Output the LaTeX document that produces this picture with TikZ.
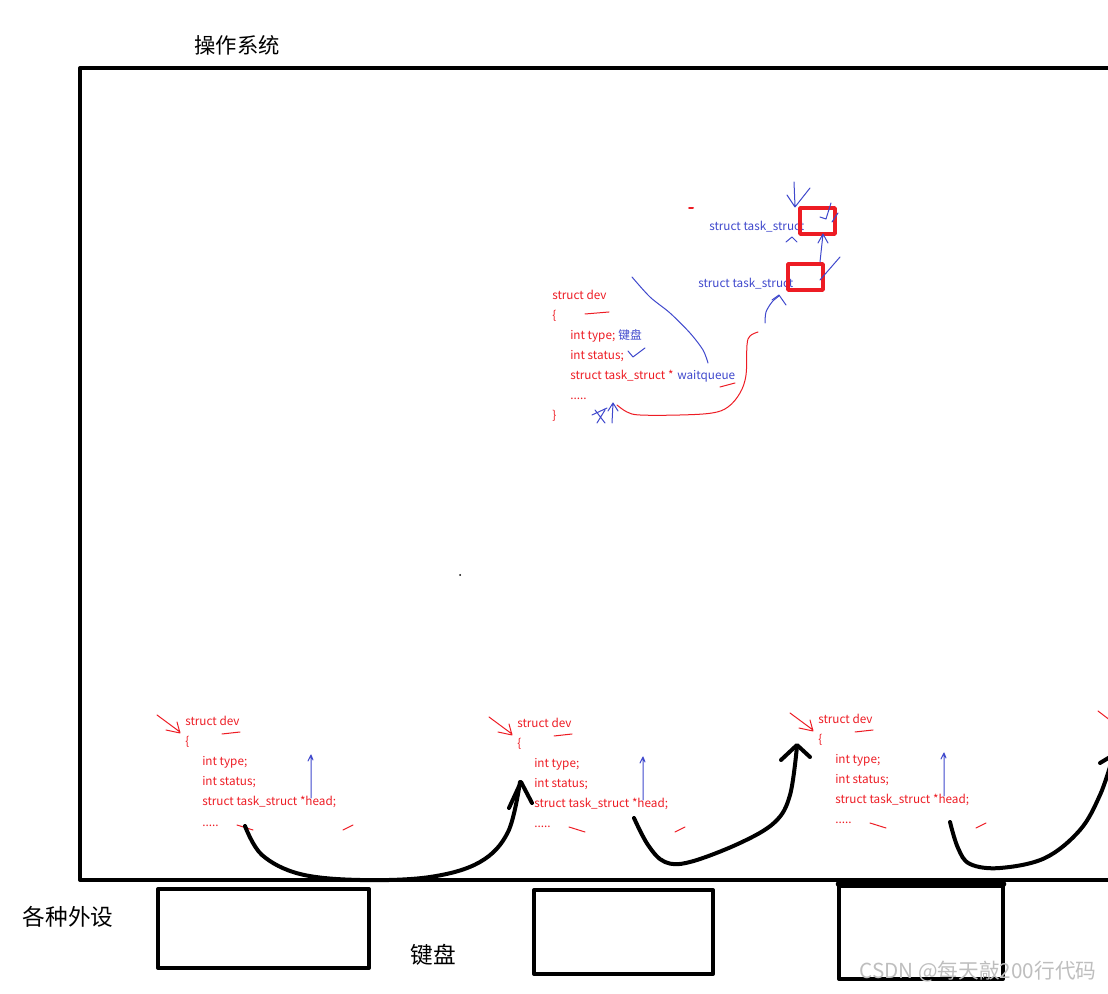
\documentclass[tikz,border=0pt]{standalone}
\usepackage{fontspec}
\setmainfont{Noto Sans CJK SC}
\definecolor{penred}{RGB}{237,28,36}
\definecolor{penblue}{RGB}{63,72,204}
\definecolor{markgray}{RGB}{190,190,190}

\begin{document}
\begin{tikzpicture}[x=0.75pt, y=-0.75pt, line cap=round, line join=round,
  code/.style={anchor=base west, inner sep=0pt, text=penred, font=\fontsize{8.8}{10}\selectfont},
  note/.style={anchor=base west, inner sep=0pt, text=penblue, font=\fontsize{8.8}{10}\selectfont},
  label/.style={inner sep=0pt, font=\fontsize{16}{18}\selectfont},
  redpen/.style={penred, line width=0.75pt},
  bluepen/.style={penblue, line width=0.75pt},
  marker/.style={black, line width=3pt},
  redbox/.style={penred, line width=2.6pt}]
  \useasboundingbox (0,0) rectangle (1108,994);

  % operating system frame and devices
  \draw[line width=3pt] (80,68) rectangle (1125,880);
  \draw[line width=3pt] (158,889) rectangle (369,968);
  \draw[line width=3pt] (534,890) rectangle (713,974);
  \draw[line width=3pt] (839,886) rectangle (1003,979);
  \draw[line width=5pt] (839,884) -- (1003,884);

  \node[label] (os) at (237,45) {操作系统};
  \node[label, font=\fontsize{17}{19}\selectfont] (devs) at (68,917) {各种外设};
  \node[label, font=\fontsize{17}{19}\selectfont] (kbd) at (433,955) {键盘};
  \node[inner sep=0pt, text=markgray, font=\fontsize{15.5}{17}\selectfont] (mark) at (978,972) {CSDN @每天敲200行代码};
  \fill (460,575) circle (1);

  % struct dev with wait queue
  \node[code] (topdev) at (552,300) {struct dev};
  \node[code] (topopen) at (552,320) {\{};
  \node[code] (toptype) at (570,340) {int type;};
  \node[note] (kbdnote) at (618,340) {键盘};
  \node[code] (topstatus) at (570,360) {int status;};
  \node[code] (topwait) at (570,380) {struct task\_struct *};
  \node[note] (waitq) at (677,380) {waitqueue};
  \node[code] (topdots) at (570,400) {.....};
  \node[code] (topclose) at (552,420) {\}};

  \node[note] (taskA) at (709,231) {struct task\_struct};
  \node[note] (taskB) at (698,288) {struct task\_struct};
  \draw[redbox] (800,208) rectangle (835,234);
  \draw[redbox] (788,264) rectangle (823,290);

  \draw[redpen] (585,314) -- (609,312);
  \draw[redpen] (720,387) -- (735,383);
  \draw[penred, line width=1.5pt] (689,208) -- (693,208);
  \draw[redpen] plot[smooth, tension=0.6] coordinates {(617,405) (627,412) (640,415) (680,415) (712,413) (728,407) (740,393) (746,375) (747,345) (750,336) (758,332)};

  \draw[bluepen] plot[smooth] coordinates {(632,277) (650,297) (670,313) (690,333) (703,350) (708,363)};
  \draw[bluepen] (628,351) -- (633,357) -- (645,348);
  \draw[bluepen] (592,415) -- (607,408) (595,410) -- (605,423) (605,410) -- (597,423);
  \draw[bluepen] (612,423) -- (613,403) (608,411) -- (613,403) -- (618,411);
  \draw[bluepen] plot[smooth] coordinates {(765,323) (766,312) (772,302) (779,296)};
  \draw[bluepen] (772,300) -- (779,295) -- (786,305);
  \draw[bluepen] (786,242) -- (792,237) -- (797,242);
  \draw[bluepen] (820,262) -- (823,234) (818,243) -- (823,234) -- (828,243);
  \draw[bluepen] (794,182) -- (795,206) (787,195) -- (795,207) -- (810,188);
  \draw[bluepen] (820,217) -- (826,219) -- (831,203);
  \draw[bluepen] (832,222) -- (838,213);
  \draw[bluepen] (820,280) -- (840,257);

  % one struct dev per device
  \foreach \n/\x/\y in {a/185/722, b/517/724, c/818/720} {
    \begin{scope}[shift={(\x,\y)}]
      \node[code] (dev\n) at (0,4) {struct dev};
      \node[code] (open\n) at (0,24) {\{};
      \node[code] (type\n) at (17,44) {int type;};
      \node[code] (status\n) at (17,64) {int status;};
      \node[code] (head\n) at (17,84) {struct task\_struct *head;};
      \node[code] (dots\n) at (17,104) {.....};
      \draw[redpen] (-28,-7) -- (-5,10) (-19,8) -- (-5,11) -- (-8,0);
      \draw[redpen] (37,12) -- (55,10);
      \draw[redpen] (52,103) -- (68,108) (158,108) -- (168,103);
      \draw[bluepen] (126,76) -- (126,33) (123,39) -- (126,33) -- (128,38);
    \end{scope}
  }
  \draw[redpen] (1098,711) -- (1115,724);

  % links between the queues
  \draw[marker] plot[smooth, tension=0.6] coordinates {(245,826) (262,855) (300,874) (360,880) (430,877) (480,862) (508,832) (520,782)};
  \draw[marker] (509,808) -- (521,782) -- (532,803);
  \draw[marker] plot[smooth, tension=0.6] coordinates {(634,818) (648,845) (665,862) (690,862) (740,843) (775,822) (790,795) (797,746)};
  \draw[marker] (781,760) -- (797,745) -- (810,757);
  \draw[marker] plot[smooth, tension=0.6] coordinates {(950,822) (958,848) (970,864) (1000,868) (1045,858) (1080,830) (1100,795) (1112,760)};
  \draw[marker] (1100,763) -- (1110,757);
\end{tikzpicture}
\end{document}
